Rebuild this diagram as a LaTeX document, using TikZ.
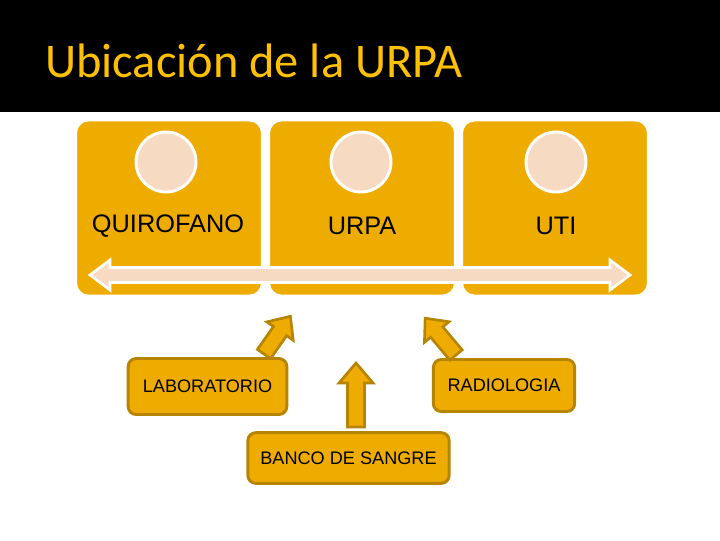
\documentclass[tikz,border=0pt]{standalone}
\usepackage{fontspec}
\setmainfont{Liberation Sans}
\newfontfamily\titlefont{Carlito}
\definecolor{gold}{HTML}{EFAC00}
\definecolor{peach}{HTML}{F6DAC2}
\definecolor{titlegold}{HTML}{FFC000}
\definecolor{edgegold}{HTML}{B78400}
\begin{document}
\begin{tikzpicture}[x=0.75pt,y=-0.75pt,
  topbox/.style={draw=white,line width=1.2pt,fill=gold,rounded corners=9pt,minimum width=139pt,minimum height=131pt,inner sep=0pt},
  disc/.style={circle,draw=white,line width=2.2pt,fill=peach,minimum size=45pt,inner sep=0pt},
  toplabel/.style={font=\fontsize{19}{21}\selectfont,text=black},
  lowbox/.style={draw=edgegold,line width=2.2pt,fill=gold,rounded corners=6pt,inner sep=0pt,font=\fontsize{13.6}{15}\selectfont},
  blockarrow/.style={draw=edgegold,line width=2pt,fill=gold,line join=miter}]
\useasboundingbox (0,0) rectangle (720,540);
\fill[white] (0,0) rectangle (720,540);
\fill[black] (0,0) rectangle (720,112);
\node[anchor=base west,text=titlegold,font=\titlefont\fontsize{36.3}{40}\selectfont,inner sep=0pt] (title) at (45,77) {Ubicación de la URPA};
% top boxes
\node[topbox] (b1) at (169,208) {};
\node[topbox] (b2) at (362,208) {};
\node[topbox] (b3) at (555,208) {};
\node[disc] (c1) at (166,162) {};
\node[disc] (c2) at (361,162) {};
\node[disc] (c3) at (556,162) {};
\node[toplabel] (l1) at (168,226) {QUIROFANO};
\node[toplabel] (l2) at (362,226) {URPA};
\node[toplabel] (l3) at (556,226) {UTI};
% double arrow
\draw[white,line width=2pt,fill=peach,line join=miter]
  (90,275) -- (110,260) -- (110,267.5) -- (610,267.5) -- (610,260) -- (630,275)
  -- (610,290) -- (610,282.5) -- (110,282.5) -- (110,290) -- cycle;
% lower boxes
\node[lowbox,minimum width=119pt,minimum height=42pt] (lab) at (207.5,386.5) {LABORATORIO};
\node[lowbox,minimum width=106pt,minimum height=39pt] (rad) at (504,385.5) {RADIOLOGIA};
\node[lowbox,minimum width=151pt,minimum height=38pt] (ban) at (348.5,458) {BANCO DE SANGRE};
% block arrows
\draw[blockarrow,shift={(356,427)},rotate=90]
  (0,-8.5) -- (44,-8.5) -- (44,-17) -- (64,0) -- (44,17) -- (44,8.5) -- (0,8.5) -- cycle;
\draw[blockarrow,shift={(264,354)},rotate=55]
  (0,-8) -- (28,-8) -- (28,-16) -- (46,0) -- (28,16) -- (28,8) -- (0,8) -- cycle;
\draw[blockarrow,shift={(456,355)},rotate=130]
  (0,-8) -- (30,-8) -- (30,-16) -- (48,0) -- (30,16) -- (30,8) -- (0,8) -- cycle;
\end{tikzpicture}
\end{document}
